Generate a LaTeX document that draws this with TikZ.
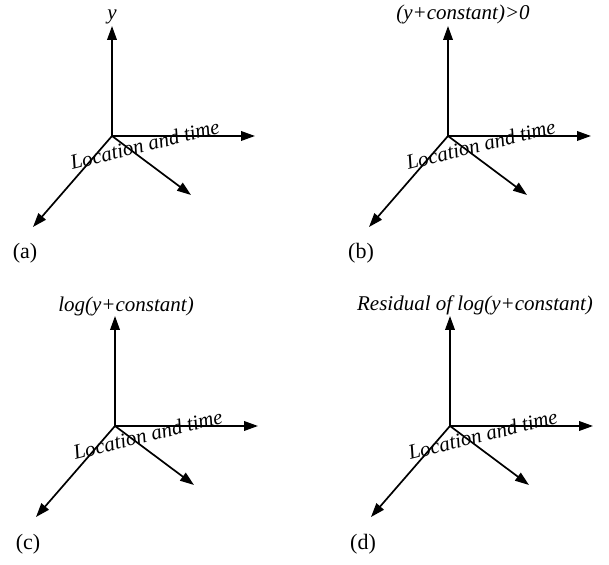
\documentclass[tikz,border=0pt]{standalone}
\usepackage{fontspec}
\setmainfont{Liberation Serif}
\usetikzlibrary{arrows.meta}
\begin{document}
\begin{tikzpicture}[x=0.5pt, y=-0.5pt, >={Triangle[length=7pt, width=4.8pt]},
    axis/.style={->, line width=0.85pt},
    lab/.style={font=\fontsize{10.5}{13}\selectfont\itshape, inner sep=0pt},
    tag/.style={font=\fontsize{11}{13}\selectfont, inner sep=0pt}]
    \useasboundingbox (0,0) rectangle (609,565);

    % 四个坐标系
    \foreach \px/\py/\t in {112/136/a, 448/136/b, 115/426/c, 450/426/d} {
        \coordinate (o\t) at (\px,\py);
        \coordinate (up\t) at (\px,{\py-110});
        \coordinate (rt\t) at ({\px+143},\py);
        \coordinate (dl\t) at ({\px-79},{\py+91});
        \coordinate (dr\t) at ({\px+79},{\py+59});
        \draw[axis] (o\t) -- (up\t);
        \draw[axis] (o\t) -- (rt\t);
        \draw[axis] (o\t) -- (dl\t);
        \draw[axis] (o\t) -- (dr\t);
        \node[lab, rotate=14, anchor=base west] (loc\t) at ({\px-40},{\py+34}) {Location and time};
        \node[tag, anchor=base] (tag\t) at ({\px-87},{\py+123}) {(\t)};
    }

    % 纵轴标签
    \node[lab, anchor=base] (ya) at (112,20) {y};
    \node[lab, anchor=base] (yb) at (463,20) {(y+constant)>0};
    \node[lab, anchor=base] (yc) at (126,312) {log(y+constant)};
    \node[lab, anchor=base] (yd) at (475,311) {Residual of log(y+constant)};
\end{tikzpicture}
\end{document}
